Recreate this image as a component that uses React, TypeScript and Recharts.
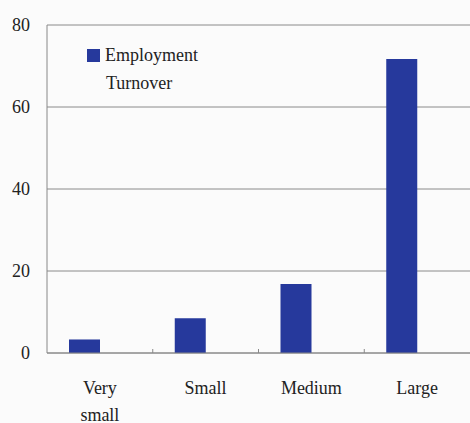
import { BarChart, Bar, XAxis, YAxis, CartesianGrid } from "recharts";

const categories = ["Very small", "Small", "Medium", "Large"];
const turnover = [3.3, 8.5, 16.8, 71.7];
const yTicks = [0, 20, 40, 60, 80];
const seriesName = ["Employment", "Turnover"];

const data = categories.map((name, i) => ({ name, turnover: turnover[i], spacer: null }));

const FONT = "'Liberation Serif', 'DejaVu Serif', serif";
const BAR_COLOR = "#26399c";
const HALF_BAND = (470 - 47) / categories.length / 2;

// recharts puts tick y at axis + tickSize(6) + tickMargin(2)
const AXIS_OFFSET = 8;

function CategoryTick(props: any) {
  const { x, y, payload, index } = props;
  const axisY = y - AXIS_OFFSET;
  const lines = String(payload.value).split(" ");
  return (
    <g>
      {index > 0 && (
        <line x1={x - HALF_BAND} x2={x - HALF_BAND} y1={axisY - 4} y2={axisY} stroke="#888" />
      )}
      <text x={x} y={axisY + 41} textAnchor="middle" fontFamily={FONT} fontSize={18} fill="#222">
        {lines.map((l, i) => (
          <tspan key={i} x={x} dy={i === 0 ? 0 : 27}>
            {l}
          </tspan>
        ))}
      </text>
    </g>
  );
}

function LegendBox() {
  return (
    <div
      style={{
        position: "absolute",
        left: 87,
        top: 41,
        fontFamily: FONT,
        fontSize: 18,
        color: "#222",
        lineHeight: "28px",
      }}
    >
      <div style={{ display: "flex", alignItems: "center" }}>
        <span style={{ width: 13, height: 13, background: BAR_COLOR, display: "inline-block", marginRight: 5 }} />
        <span>{seriesName[0]}</span>
      </div>
      <div style={{ paddingLeft: 19 }}>{seriesName[1]}</div>
    </div>
  );
}

export default function App() {
  return (
    <div style={{ position: "absolute", left: 0, top: 0, width: 470, height: 423, background: "#fbfbfb", overflow: "hidden" }}>
      <BarChart
        width={470}
        height={423}
        data={data}
        margin={{ top: 25, right: 0, bottom: 0, left: 0 }}
        barSize={31}
        barGap={0}
      >
        <CartesianGrid vertical={false} stroke="#8a8a8a" />
        <XAxis
          dataKey="name"
          height={70}
          axisLine={{ stroke: "#888" }}
          tickLine={false}
          tick={<CategoryTick />}
          interval={0}
        />
        <YAxis
          width={47}
          domain={[0, 80]}
          ticks={yTicks}
          tickLine={false}
          tickSize={0}
          tickMargin={17}
          axisLine={{ stroke: "#888" }}
          tick={{ fontFamily: FONT, fontSize: 18, fill: "#222" }}
        />
        <Bar dataKey="turnover" fill={BAR_COLOR} isAnimationActive={false} />
        <Bar dataKey="spacer" fill="none" legendType="none" isAnimationActive={false} />
      </BarChart>
      <LegendBox />
    </div>
  );
}
